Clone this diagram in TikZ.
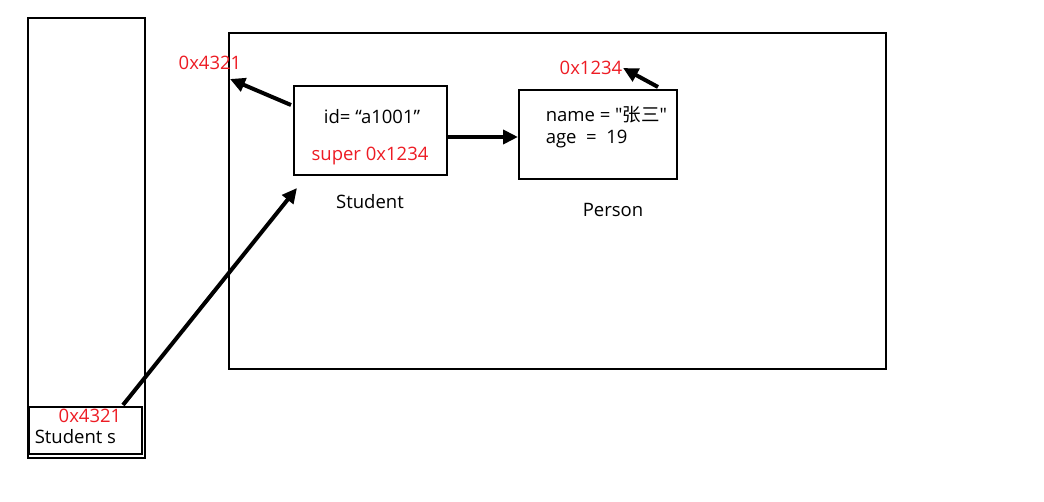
\documentclass[tikz,border=0pt]{standalone}
\usepackage{fontspec}
\setmainfont{Open Sans}
\newfontfamily\cjk{Noto Sans CJK SC}
\usetikzlibrary{arrows.meta}
\definecolor{addrred}{RGB}{237,28,36}
\newcommand\fs{\fontsize{18.5}{22}\selectfont}

\begin{document}
\begin{tikzpicture}
  [x=1pt,y=-1pt,line width=1.5,
   box/.style = {
     draw, line width=2.4, inner sep=0cm, anchor=north west
   },
   txt/.style = {
     inner sep=0cm, font=\fs
   },
   addr/.style = {
     txt, text=addrred
   },
   ptr/.style = {
     line width=4, -{Triangle[length=15pt,width=14pt]}
   }]

  \useasboundingbox (0,0) rectangle (1044,502);

  % Stack and heap frames.
  \node[box, minimum width=117, minimum height=440] at (27,17) (stack) {};
  \node[box, minimum width=113, minimum height=47] at (28,406) (sref) {};
  \node[box, minimum width=657, minimum height=336] at (228,32) (heap) {};

  % Objects on the heap.
  \node[box, minimum width=153, minimum height=89] at (293,85) (student) {};
  \node[box, minimum width=158, minimum height=89] at (518,89) (person) {};

  % Texts.
  \node[addr] at (90,416) (sref4321) {0x4321};
  \node[txt, anchor=west] at (34,437) (srefname) {Student s};
  \node[addr] at (210,63) (h4321) {0x4321};
  \node[addr] at (591,68) (p1234) {0x1234};
  \node[txt] at (372,117) (sid) {id= “a1001”};
  \node[addr] at (370,156) (ssuper) {super 0x1234};
  \node[txt, anchor=west] at (545,115) (pname) {name = \textquotedbl{\cjk 张三}\textquotedbl};
  \node[txt, anchor=west] at (545,139) (page) {age \ = \ 19};
  \node[txt] at (370,202) (slabel) {Student};
  \node[txt] at (613,210) (plabel) {Person};

  \coordinate (srefout) at (123,405);
  \coordinate (studentin) at (297,188);
  \coordinate (studentup) at (291,105);
  \coordinate (heapleft) at (230,79);
  \coordinate (personup) at (658,87);

  % Pointers.
  \draw[ptr] (srefout) -- (studentin);
  \draw[ptr] (studentup) -- (heapleft);
  \draw[ptr] (student.east |- 0,137) -- (person.west |- 0,137);
  \draw[ptr] (personup) -- (p1234.east);

\end{tikzpicture}
\end{document}
